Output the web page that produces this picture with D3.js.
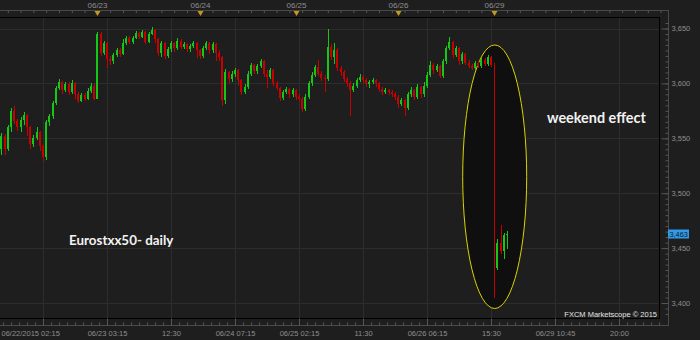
<!DOCTYPE html>
<html>
<head>
<meta charset="utf-8">
<script src="https://cdn.jsdelivr.net/npm/d3@7"></script>
<style>
  html, body { margin: 0; padding: 0; background: #1e1e1e; }
  svg { display: block; }
  .axis text { font-family: "Liberation Sans", Arial, sans-serif; font-size: 7.5px; fill: #8e8e8e; }
  .axis line { stroke: #555; }
  .axis path { display: none; }
</style>
</head>
<body>
<svg id="chart" width="700" height="340"></svg>
<script>
'use strict'

// 15 min candles, Eurostxx50, 06/22 - 06/29/2015 (open of each bar = close of the one before)
const firstOpen = 3540
const closes = [
  3552, 3540, 3560, 3575, 3566, 3560, 3567, 3571, 3560, 3545,
  3550, 3556, 3543, 3533, 3565, 3570, 3582, 3596, 3601, 3594,
  3599, 3592, 3600, 3590, 3584, 3589, 3586, 3593, 3598, 3586,
  3645, 3628, 3637, 3622, 3620, 3626, 3630, 3627, 3637, 3641,
  3638, 3641, 3646, 3642, 3647, 3638, 3645, 3649, 3640, 3628,
  3637, 3625, 3631, 3637, 3632, 3639, 3633, 3636, 3631, 3634,
  3637, 3630, 3625, 3632, 3637, 3630, 3636, 3628, 3624, 3585,
  3610, 3604, 3609, 3612, 3603, 3592, 3597, 3609, 3617, 3611,
  3616, 3620, 3609, 3606, 3612, 3600, 3596, 3587, 3592, 3595,
  3590, 3594, 3588, 3586, 3577, 3588, 3600, 3608, 3615, 3609,
  3605, 3604, 3633, 3624, 3630, 3614, 3610, 3604, 3600, 3594,
  3598, 3603, 3606, 3603, 3599, 3601, 3603, 3600, 3595, 3592,
  3594, 3592, 3590, 3588, 3581, 3585, 3578, 3590, 3594, 3588,
  3597, 3590, 3598, 3608, 3617, 3612, 3616, 3607, 3620, 3632,
  3638, 3626, 3632, 3620, 3627, 3619, 3616, 3614, 3619, 3616,
  3621, 3618, 3624, 3617, 3432, 3455, 3447, 3462, 3463
]
const highs = [
  3555, 3554, 3562, 3578, 3579, 3568, 3569, 3574, 3572, 3561,
  3553, 3560, 3557, 3545, 3567, 3572, 3584, 3598, 3604, 3602,
  3601, 3601, 3603, 3601, 3592, 3591, 3591, 3596, 3600, 3599,
  3647, 3647, 3639, 3638, 3625, 3628, 3632, 3632, 3640, 3643,
  3643, 3643, 3648, 3647, 3649, 3648, 3647, 3651, 3650, 3641,
  3639, 3638, 3633, 3639, 3638, 3641, 3640, 3638, 3637, 3636,
  3639, 3638, 3631, 3634, 3639, 3638, 3638, 3637, 3630, 3625,
  3613, 3611, 3611, 3614, 3613, 3604, 3599, 3611, 3619, 3618,
  3618, 3622, 3621, 3612, 3614, 3613, 3602, 3597, 3594, 3597,
  3596, 3596, 3595, 3590, 3588, 3590, 3602, 3610, 3617, 3621,
  3611, 3608, 3650, 3636, 3637, 3632, 3616, 3612, 3606, 3602,
  3600, 3605, 3609, 3608, 3605, 3603, 3605, 3604, 3601, 3597,
  3596, 3595, 3594, 3592, 3589, 3587, 3586, 3592, 3597, 3595,
  3599, 3598, 3601, 3610, 3620, 3619, 3618, 3617, 3622, 3634,
  3642, 3639, 3634, 3633, 3629, 3628, 3621, 3618, 3620, 3620,
  3623, 3623, 3626, 3625, 3619, 3458, 3471, 3464, 3466
]
const lows = [
  3535, 3535, 3538, 3556, 3563, 3557, 3556, 3562, 3552, 3540,
  3542, 3548, 3538, 3529, 3530, 3561, 3568, 3580, 3594, 3590,
  3592, 3589, 3590, 3586, 3582, 3583, 3584, 3585, 3591, 3585,
  3586, 3625, 3626, 3614, 3617, 3618, 3624, 3624, 3626, 3635,
  3636, 3636, 3640, 3640, 3641, 3636, 3637, 3644, 3637, 3625,
  3624, 3622, 3623, 3629, 3629, 3630, 3631, 3631, 3629, 3629,
  3632, 3623, 3622, 3623, 3630, 3627, 3628, 3620, 3620, 3579,
  3581, 3600, 3601, 3606, 3598, 3589, 3590, 3595, 3607, 3609,
  3609, 3614, 3606, 3596, 3604, 3598, 3594, 3584, 3585, 3590,
  3587, 3588, 3585, 3584, 3574, 3575, 3586, 3598, 3606, 3607,
  3602, 3592, 3602, 3621, 3618, 3611, 3607, 3601, 3597, 3570,
  3592, 3596, 3601, 3600, 3597, 3596, 3599, 3597, 3592, 3589,
  3590, 3589, 3588, 3585, 3578, 3579, 3570, 3576, 3588, 3585,
  3586, 3587, 3588, 3596, 3606, 3609, 3610, 3605, 3605, 3618,
  3630, 3623, 3624, 3617, 3618, 3617, 3614, 3612, 3612, 3614,
  3614, 3616, 3616, 3615, 3405, 3430, 3445, 3440, 3449
]

const dayMarkIndex = [30, 62, 92, 124, 154]
const dayMarkLabels = ['06/23', '06/24', '06/25', '06/26', '06/29']
const timeTickIndex = [13, 33, 53, 73, 93, 113, 133, 153, 173, 193]
const timeTickLabels = ['06/22/2015 02:15', '06/23 03:15', '12:30', '06/24 07:15', '06/25 02:15',
  '11:30', '06/26 06:15', '15:30', '06/29 10:45', '20:00']
const priceTicks = [3400, 3450, 3500, 3550, 3600, 3650]
const lastPrice = 3463

// weekend gap annotation
const gapIndex = 154
const ellipseTop = 3635
const ellipseBottom = 3395
const ellipseHalfBars = 10

const GREEN = '#16c816'
const RED = '#c80000'
const PLOT = { left: 0, right: 659, top: 17, bottom: 318 }
const AXIS_X = 668.5
const TOP_LINE = 10.5
const BOTTOM_LINE = 325.5

const candles = closes.map((c, i) => ({
  i, c, h: highs[i], l: lows[i], o: i === 0 ? firstOpen : closes[i - 1]
}))

const x = d3.scaleLinear().domain([0, 1]).range([1.4, 4.6])
const y = d3.scaleLinear().domain([3400, 3650]).range([303, 28.5])

const svg = d3.select('#chart')

svg.append('rect').attr('width', 700).attr('height', 340).attr('fill', '#1e1e1e')

// grid
const grid = svg.append('g').attr('class', 'grid').attr('stroke', '#2d2d2d').attr('shape-rendering', 'crispEdges')
grid.selectAll('line.h').data(priceTicks).enter().append('line').attr('class', 'h')
  .attr('x1', PLOT.left).attr('x2', PLOT.right)
  .attr('y1', d => Math.round(y(d)) + 0.5).attr('y2', d => Math.round(y(d)) + 0.5)
grid.selectAll('line.v').data(timeTickIndex).enter().append('line').attr('class', 'v')
  .attr('x1', d => Math.round(x(d)) + 0.5).attr('x2', d => Math.round(x(d)) + 0.5)
  .attr('y1', PLOT.top).attr('y2', PLOT.bottom)

// weekend ellipse
const cy = (y(ellipseTop) + y(ellipseBottom)) / 2
svg.append('ellipse')
  .attr('cx', x(gapIndex) + 0.5).attr('cy', cy)
  .attr('rx', x(gapIndex + ellipseHalfBars) - x(gapIndex))
  .attr('ry', (y(ellipseBottom) - y(ellipseTop)) / 2)
  .attr('fill', '#0f0f0f').attr('stroke', '#d8d400').attr('stroke-width', 1)

// candles
const bars = svg.append('g').attr('class', 'candles').attr('shape-rendering', 'crispEdges')
  .selectAll('g.candle').data(candles).enter().append('g').attr('class', 'candle')
  .attr('fill', d => d.c >= d.o ? GREEN : RED)
bars.append('rect')
  .attr('x', d => Math.round(x(d.i))).attr('width', 1)
  .attr('y', d => y(d.h)).attr('height', d => Math.max(1, y(d.l) - y(d.h)))
bars.append('rect')
  .attr('x', d => d.i === gapIndex ? Math.round(x(d.i)) : Math.round(x(d.i)) - 1)
  .attr('width', d => d.i === gapIndex ? 1 : 2)
  .attr('y', d => y(Math.max(d.o, d.c)))
  .attr('height', d => Math.max(1, Math.abs(y(d.o) - y(d.c))))

// frame
const frame = svg.append('g').attr('stroke', '#000').attr('shape-rendering', 'crispEdges')
frame.append('line').attr('x1', PLOT.left).attr('x2', PLOT.right).attr('y1', PLOT.top + 0.5).attr('y2', PLOT.top + 0.5)
frame.append('line').attr('x1', PLOT.left).attr('x2', PLOT.right).attr('y1', PLOT.bottom + 0.5).attr('y2', PLOT.bottom + 0.5)
frame.append('line').attr('x1', PLOT.right + 0.5).attr('x2', PLOT.right + 0.5).attr('y1', PLOT.top).attr('y2', PLOT.bottom + 1)

const rails = svg.append('g').attr('stroke', '#4a4a4a').attr('shape-rendering', 'crispEdges')
rails.append('line').attr('x1', 0).attr('x2', AXIS_X).attr('y1', TOP_LINE).attr('y2', TOP_LINE)
rails.append('line').attr('x1', 0).attr('x2', AXIS_X).attr('y1', BOTTOM_LINE).attr('y2', BOTTOM_LINE)
rails.append('line').attr('x1', AXIS_X).attr('x2', AXIS_X).attr('y1', TOP_LINE).attr('y2', BOTTOM_LINE)

// top axis: small ticks and day markers
svg.append('g').attr('class', 'axis').attr('transform', `translate(0,${TOP_LINE})`)
  .call(d3.axisBottom(x).tickValues(d3.range(2, 207, 4)).tickSize(2.5).tickFormat(''))
svg.append('g').selectAll('path.day').data(dayMarkIndex).enter().append('path')
  .attr('d', d => { const cx = Math.round(x(d)) + 0.5; return `M${cx - 3},11 L${cx + 3},11 L${cx},16 Z` })
  .attr('fill', '#c8961e')
svg.append('g').attr('class', 'axis').selectAll('text').data(dayMarkIndex).enter().append('text')
  .attr('x', d => Math.round(x(d)) + 0.5).attr('y', 7.5).attr('text-anchor', 'middle')
  .style('font-size', '8px')
  .text((d, k) => dayMarkLabels[k])

// bottom axis
svg.append('g').attr('class', 'axis').attr('transform', `translate(0,${BOTTOM_LINE})`)
  .call(d3.axisTop(x).tickValues(d3.range(0.5, 207, 2.5)).tickSize(3).tickFormat(''))
const bottom = svg.append('g').attr('class', 'axis').attr('transform', `translate(0,${BOTTOM_LINE})`)
  .call(d3.axisBottom(x).tickValues(timeTickIndex).tickSize(0).tickPadding(5)
    .tickFormat((d, k) => timeTickLabels[k]))
bottom.select('.tick text').attr('text-anchor', 'start').attr('x', 1 - x(timeTickIndex[0]))
svg.append('g').attr('class', 'axis').attr('transform', `translate(0,${BOTTOM_LINE})`)
  .call(d3.axisTop(x).tickValues(timeTickIndex).tickSize(7).tickFormat(''))

// right price axis
svg.append('g').attr('class', 'axis').attr('transform', `translate(${AXIS_X},0)`)
  .call(d3.axisLeft(y).tickValues(d3.range(3390, 3660, 5)).tickSize(3).tickFormat(''))
svg.append('g').attr('class', 'axis').attr('transform', `translate(${AXIS_X},0)`)
  .call(d3.axisLeft(y).tickValues(priceTicks).tickSize(7).tickFormat(''))
svg.append('g').attr('class', 'axis').attr('transform', `translate(${AXIS_X},0)`)
  .call(d3.axisRight(y).tickValues(priceTicks).tickSize(0).tickPadding(3).tickFormat(d3.format(',')))

// last price flag
const ly = y(lastPrice)
svg.append('rect').attr('x', AXIS_X - 0.5).attr('y', Math.round(ly) - 4.5).attr('width', 21).attr('height', 9)
  .attr('fill', '#3399e6')
svg.append('text').attr('x', AXIS_X + 1).attr('y', ly + 2.7)
  .style('font-family', '"Liberation Sans", Arial, sans-serif').style('font-size', '7.3px')
  .attr('fill', '#0a1a2c').text(d3.format(',')(lastPrice))

// notes
svg.append('text').attr('x', 547).attr('y', 123)
  .style('font-family', 'Lato, "Open Sans", sans-serif').style('font-size', '14.4px').style('font-weight', 'bold')
  .attr('fill', '#f2f2f2').text('weekend effect')
svg.append('text').attr('x', 69).attr('y', 245)
  .style('font-family', 'Lato, "Open Sans", sans-serif').style('font-size', '13.4px').style('font-weight', 'bold')
  .attr('fill', '#f2f2f2').text('Eurostxx50- daily')
svg.append('text').attr('x', 657).attr('y', 317).attr('text-anchor', 'end')
  .style('font-family', '"Liberation Sans", Arial, sans-serif').style('font-size', '7.5px')
  .attr('fill', '#e4e4e4').text('FXCM Marketscope © 2015')
</script>
</body>
</html>
